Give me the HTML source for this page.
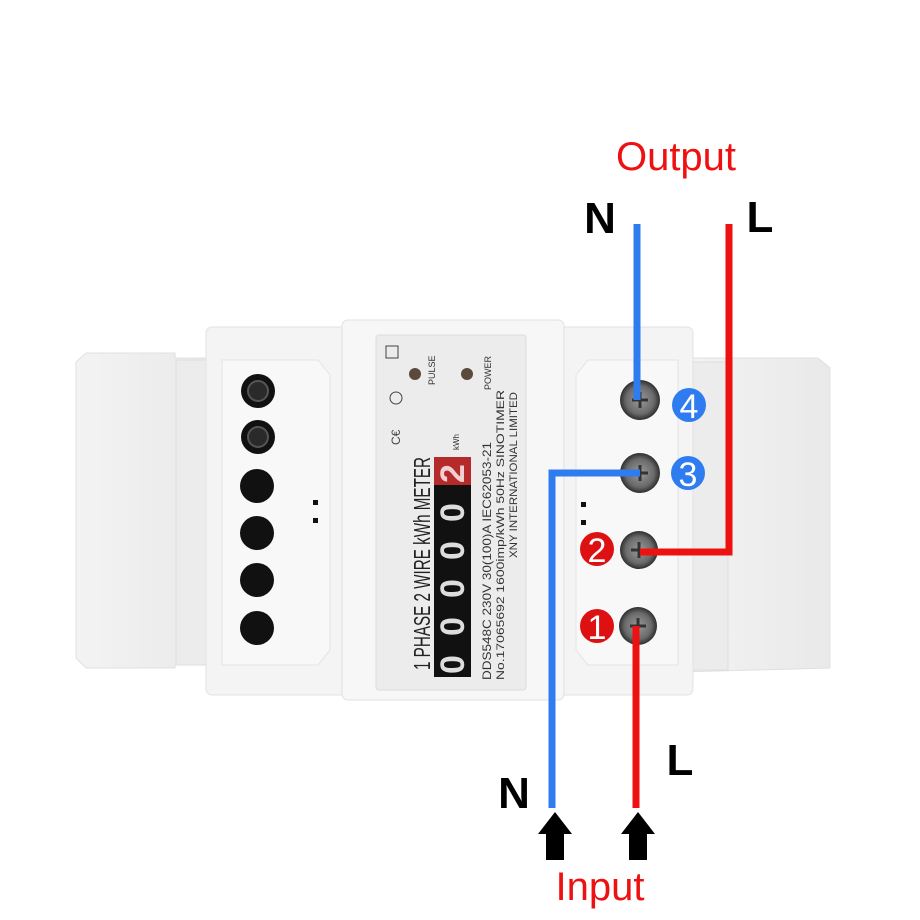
<!DOCTYPE html>
<html><head><meta charset="utf-8"><style>
html,body{margin:0;padding:0;background:#fff;}
svg{display:block;}
text{font-family:"Liberation Sans",sans-serif;}
</style></head><body>
<svg width="920" height="920" viewBox="0 0 920 920" xmlns="http://www.w3.org/2000/svg">
<defs>
<radialGradient id="scr" cx="0.5" cy="0.5" r="0.5">
<stop offset="0" stop-color="#9a9a9a"/><stop offset="0.7" stop-color="#6a6a6a"/><stop offset="1" stop-color="#2e2e2e"/>
</radialGradient>
<linearGradient id="flap" x1="0" x2="1"><stop offset="0" stop-color="#f3f3f3"/><stop offset="1" stop-color="#e9e9e9"/></linearGradient>
</defs>
<rect width="920" height="920" fill="#fff"/>

<!-- left flap -->
<path d="M76,362 L86,353 L175,353 L175,358 L222,358 L222,665 L175,665 L175,668 L86,668 L76,658 Z" fill="url(#flap)" stroke="#e0e0e0"/>
<rect x="176" y="360" width="46" height="305" fill="#ececec" stroke="#dedede"/>
<!-- right flap -->
<path d="M680,358 L818,358 L830,368 L830,668 L680,672 Z" fill="url(#flap)" stroke="#e0e0e0"/>
<rect x="680" y="362" width="48" height="308" fill="#ececec" stroke="#dedede"/>

<!-- main body -->
<rect x="206" y="327" width="487" height="368" rx="6" fill="#f4f4f4" stroke="#e2e2e2"/>
<path d="M222,360 L318,360 L330,375 L330,650 L318,665 L222,665 Z" fill="#f8f8f8" stroke="#e3e3e3"/>
<path d="M588,360 L678,360 L678,665 L588,665 L576,650 L576,375 Z" fill="#f8f8f8" stroke="#e3e3e3"/>
<rect x="342" y="320" width="222" height="380" rx="6" fill="#f7f7f7" stroke="#e0e0e0"/>
<rect x="376" y="335" width="150" height="355" rx="3" fill="#ececec" stroke="#dcdcdc"/>

<!-- left holes -->
<g fill="#111">
<circle cx="258" cy="391" r="17"/><circle cx="258" cy="437" r="17"/>
<circle cx="257" cy="486" r="17"/><circle cx="257" cy="533" r="17"/>
<circle cx="257" cy="580" r="17"/><circle cx="257" cy="628" r="17"/>
</g>
<circle cx="258" cy="391" r="10" fill="#2a2a2a" stroke="#555" stroke-width="2"/>
<circle cx="258" cy="437" r="10" fill="#2a2a2a" stroke="#555" stroke-width="2"/>
<rect x="313" y="500" width="5" height="5" fill="#111"/><rect x="313" y="518" width="5" height="5" fill="#111"/>
<rect x="581" y="502" width="5" height="5" fill="#111"/><rect x="581" y="520" width="5" height="5" fill="#111"/>

<!-- right screws -->
<circle cx="640" cy="400" r="20" fill="url(#scr)"/>
<circle cx="640" cy="473" r="20" fill="url(#scr)"/>
<circle cx="639" cy="550" r="19" fill="url(#scr)"/>
<circle cx="638" cy="626" r="19" fill="url(#scr)"/>
<g stroke="#333" stroke-width="3">
<path d="M632,400h16M640,392v16"/><path d="M632,473h16M640,465v16"/>
<path d="M631,550h16M639,542v16"/><path d="M630,626h16M638,618v16"/>
</g>

<!-- label content -->
<g transform="translate(378,690) rotate(-90)">
<text x="20" y="52" font-size="23" fill="#222" textLength="213" lengthAdjust="spacingAndGlyphs">1 PHASE 2 WIRE  kWh METER</text>
<rect x="13" y="56" width="220" height="37" fill="#111"/>
<rect x="205" y="56" width="28" height="37" fill="#b52a2a"/>
<g font-size="34" fill="#ddd" font-weight="bold">
<text x="16" y="86">0</text><text x="54" y="86">0</text><text x="92" y="86">0</text><text x="130" y="86">0</text><text x="168" y="86">0</text>
<text x="207" y="86" fill="#f0d0d0">2</text>
</g>
<text x="240" y="81" font-size="8" fill="#333">kWh</text>
<text x="10" y="113" font-size="12" fill="#333" textLength="238" lengthAdjust="spacingAndGlyphs">DDS548C   230V   30(100)A   IEC62053-21</text>
<text x="10" y="126" font-size="11" fill="#333" textLength="290" lengthAdjust="spacingAndGlyphs">No.17065692  1600imp/kWh    50Hz    SINOTIMER</text>
<text x="132" y="139" font-size="11" fill="#333" textLength="166" lengthAdjust="spacingAndGlyphs">XNY INTERNATIONAL LIMITED</text>
<text x="245" y="22" font-size="12" fill="#444">C€</text>
<circle cx="292" cy="18" r="6" fill="none" stroke="#444"/>
<rect x="332" y="8" width="12" height="12" fill="none" stroke="#444"/>
<text x="305" y="57" font-size="9" fill="#333">PULSE</text>
<text x="300" y="113" font-size="9" fill="#333">POWER</text>
</g>
<circle cx="415" cy="374" r="6" fill="#5a4a3a"/>
<circle cx="467" cy="374" r="6" fill="#5a4a3a"/>

<!-- wires -->
<g fill="none" stroke-width="7">
<path d="M637,224 V400" stroke="#2f7cf0"/>
<path d="M640,473 H552 V808" stroke="#2f7cf0"/>
<path d="M729,224 V552 H640" stroke="#ee1111"/>
<path d="M636,626 V808" stroke="#ee1111"/>
</g>

<!-- badges -->
<circle cx="689" cy="405" r="17" fill="#2f7cf0"/><text x="689" y="418" font-size="34" fill="#fff" text-anchor="middle">4</text>
<circle cx="688" cy="473" r="17" fill="#2f7cf0"/><text x="688" y="486" font-size="34" fill="#fff" text-anchor="middle">3</text>
<circle cx="597" cy="549" r="17" fill="#dd1111"/><text x="597" y="562" font-size="34" fill="#fff" text-anchor="middle">2</text>
<circle cx="597" cy="626" r="17" fill="#dd1111"/><text x="597" y="639" font-size="34" fill="#fff" text-anchor="middle">1</text>

<!-- arrows -->
<path d="M555,812 L572,834 L564,834 L564,860 L546,860 L546,834 L538,834 Z" fill="#000"/>
<path d="M638,812 L655,834 L647,834 L647,860 L629,860 L629,834 L621,834 Z" fill="#000"/>

<!-- labels -->
<text x="676" y="170" font-size="40" fill="#ee1111" text-anchor="middle">Output</text>
<text x="600" y="233" font-size="44" font-weight="bold" fill="#000" text-anchor="middle">N</text>
<text x="760" y="232" font-size="44" font-weight="bold" fill="#000" text-anchor="middle">L</text>
<text x="514" y="808" font-size="44" font-weight="bold" fill="#000" text-anchor="middle">N</text>
<text x="680" y="775" font-size="44" font-weight="bold" fill="#000" text-anchor="middle">L</text>
<text x="600" y="900" font-size="40" fill="#ee1111" text-anchor="middle">Input</text>
</svg>
</body></html>
